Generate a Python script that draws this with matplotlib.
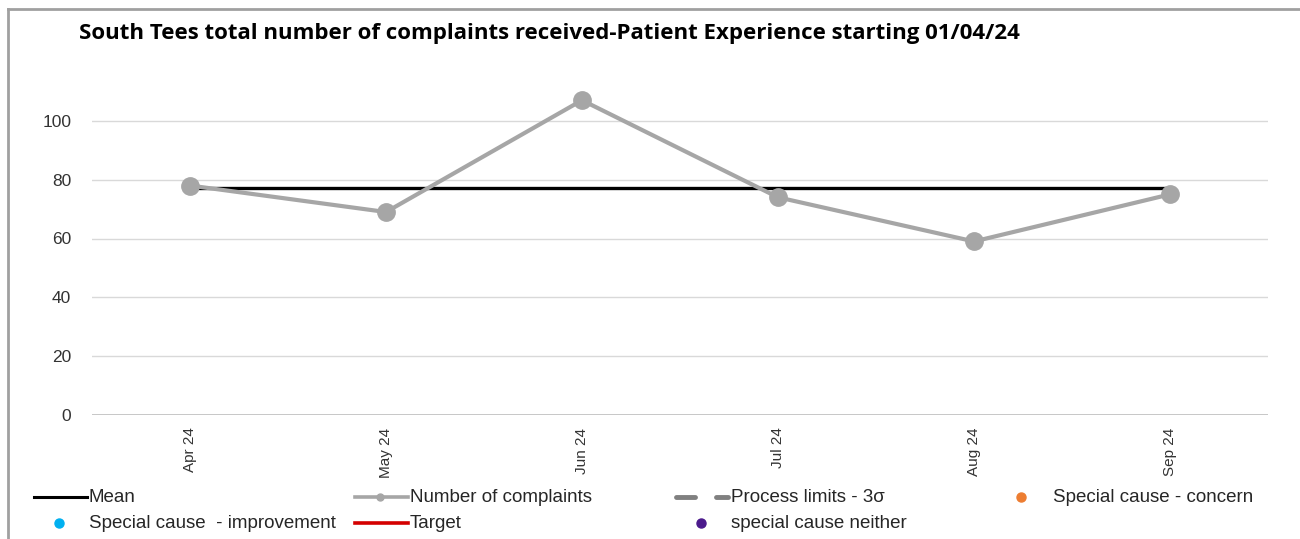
import numpy as np
import matplotlib.pyplot as plt
from matplotlib.lines import Line2D

# data
months = ['Apr 24', 'May 24', 'Jun 24', 'Jul 24', 'Aug 24', 'Sep 24']
complaints = [78, 69, 107, 74, 59, 75]
mean_level = 77
y_ticks = [0, 20, 40, 60, 80, 100]

title = 'South Tees total number of complaints received-Patient Experience starting 01/04/24'

W, H = 1300, 539
fig = plt.figure(figsize=(W / 100, H / 100), dpi=100)
fig.patch.set_facecolor('white')

def fx(px):
    return px / W

def fy(py):
    return 1 - py / H

# plot area
ax = fig.add_axes([fx(92), fy(415), fx(1268) - fx(92), fy(62) - fy(415)])
x = np.arange(len(months))

ax.plot(x, [mean_level] * len(x), color='black', lw=2.4, zorder=2)
ax.plot(x, complaints, color='#a6a6a6', lw=3.0, marker='o', ms=12.5,
        markerfacecolor='#a6a6a6', markeredgecolor='#a6a6a6', zorder=3)

ax.set_xlim(-0.5, len(months) - 0.5)
ax.set_ylim(0, 120)
ax.set_yticks(y_ticks)
ax.set_yticklabels([str(v) for v in y_ticks], fontsize=12.5, family='Liberation Sans', color='#333333')
ax.set_xticks(x)
ax.set_xticklabels(months, rotation=90, fontsize=11, family='Liberation Sans', color='#333333')
ax.tick_params(axis='both', length=0)
ax.tick_params(axis='y', pad=15)
ax.tick_params(axis='x', pad=9)
ax.grid(axis='y', color='#d9d9d9', lw=1)
ax.axhline(0, color='#bfbfbf', lw=1.2, zorder=1)
ax.set_axisbelow(True)
for s in ax.spines.values():
    s.set_visible(False)

# title
fig.text(fx(79), fy(33), title, fontsize=16, fontweight='bold', family='Open Sans',
         va='center', ha='left', color='black')

# outer frame (left and top only visible)
fig.add_artist(Line2D([fx(8), fx(8)], [fy(9), 0], transform=fig.transFigure, color='#a0a0a0', lw=2))
fig.add_artist(Line2D([fx(8), 1], [fy(9), fy(9)], transform=fig.transFigure, color='#a0a0a0', lw=2))

# legend, drawn by hand to keep Excel's layout
leg_font = dict(fontsize=13.5, family='Liberation Sans', color='#262626', va='center', ha='left')
r1, r2 = 497, 523

def leg_line(x0, x1, y, **kw):
    fig.add_artist(Line2D([fx(x0), fx(x1)], [fy(y), fy(y)], transform=fig.transFigure, **kw))

def leg_dot(xc, y, color, ms=6.5):
    fig.add_artist(Line2D([fx(xc)], [fy(y)], transform=fig.transFigure, marker='o', ms=ms,
                          color=color, lw=0))

leg_line(34, 87, r1, color='black', lw=2.2)
fig.text(fx(89), fy(r1), 'Mean', **leg_font)

leg_line(355, 408, r1, color='#a6a6a6', lw=2.6)
leg_dot(380, r1, '#a6a6a6', ms=5)
fig.text(fx(410), fy(r1), 'Number of complaints', **leg_font)

leg_line(676, 695, r1, color='#808080', lw=3.5, solid_capstyle='round')
leg_line(716, 728, r1, color='#808080', lw=3.5, solid_capstyle='round')
fig.text(fx(731), fy(r1), 'Process limits - 3σ', **leg_font)

leg_dot(1021, r1, '#ed7d31')
fig.text(fx(1053), fy(r1), 'Special cause - concern', **leg_font)

leg_dot(59, r2, '#00b0f0')
fig.text(fx(89), fy(r2), 'Special cause  - improvement', **leg_font)

leg_line(355, 408, r2, color='#d40000', lw=2.6)
fig.text(fx(410), fy(r2), 'Target', **leg_font)

leg_dot(701, r2, '#4b1a8c')
fig.text(fx(731), fy(r2), 'special cause neither', **leg_font)

fig.savefig('out.png', dpi=100, facecolor='white')
